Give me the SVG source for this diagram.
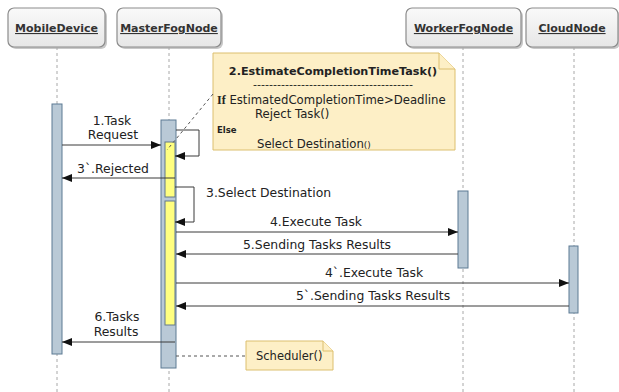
<svg xmlns="http://www.w3.org/2000/svg" width="619" height="392" viewBox="0 0 619 392">
<defs>
<linearGradient id="hdr" x1="0" y1="0" x2="0" y2="1">
<stop offset="0" stop-color="#fafafa"/><stop offset="1" stop-color="#e6e6e6"/>
</linearGradient>
<marker id="ah" markerWidth="10" markerHeight="8" refX="10" refY="4" orient="auto" markerUnits="userSpaceOnUse">
<path d="M0,0 L10,4 L0,8 Z" fill="#111"/>
</marker>
<style>
.hbox{fill:url(#hdr);stroke:#8c8c8c;stroke-width:1.2}
.hsh{fill:#c8c8c8}
.htx{font-family:"DejaVu Sans",Verdana,sans-serif;font-size:11px;font-weight:bold;fill:#333;text-anchor:middle;text-decoration:underline}
.life{stroke:#a8a8a8;stroke-width:1;stroke-dasharray:3,3;fill:none}
.act{fill:#b9c9d6;stroke:#5d7a93;stroke-width:1}
.ylw{fill:#ffff80;stroke:#62788c;stroke-width:1}
.msg{stroke:#3a3a3a;stroke-width:1;fill:none;marker-end:url(#ah)}
.lbl{font-family:"DejaVu Sans",Verdana,sans-serif;font-size:12.4px;fill:#222;text-anchor:middle}
.lbs{font-family:"DejaVu Sans",Verdana,sans-serif;font-size:12.4px;fill:#222}
.note{fill:#fdefc6;stroke:#dcbf6e;stroke-width:1}
.ntx{font-family:"DejaVu Sans",Verdana,sans-serif;font-size:11.7px;fill:#222}
.dash{stroke:#555;stroke-width:1;stroke-dasharray:3,3;fill:none}
</style>
</defs>
<rect width="619" height="392" fill="#fff"/>

<g id="MobileDevice">
<rect class="hsh" x="10" y="10" width="97" height="39" rx="6"/>
<rect class="hbox" x="8" y="8" width="97" height="39" rx="6"/>
<text class="htx" x="56.5" y="32">MobileDevice</text>
<line class="life" x1="57" y1="47" x2="57" y2="392"/>
<rect class="act" x="52" y="104" width="10" height="250"/>
</g>

<g id="MasterFogNode">
<rect class="hsh" x="119" y="10" width="104" height="39" rx="6"/>
<rect class="hbox" x="117" y="8" width="104" height="39" rx="6"/>
<text class="htx" x="169" y="32">MasterFogNode</text>
<line class="life" x1="169" y1="47" x2="169" y2="392"/>
<rect class="act" x="161" y="120" width="15" height="248"/>
<rect class="ylw" x="165" y="142" width="10" height="55"/>
<rect class="ylw" x="165" y="201" width="10" height="124"/>
</g>

<g id="WorkerFogNode">
<rect class="hsh" x="408" y="10" width="115" height="39" rx="6"/>
<rect class="hbox" x="406" y="8" width="115" height="39" rx="6"/>
<text class="htx" x="463.5" y="32">WorkerFogNode</text>
<line class="life" x1="463" y1="47" x2="463" y2="392"/>
<rect class="act" x="458" y="191" width="10" height="77"/>
</g>

<g id="CloudNode">
<rect class="hsh" x="528" y="10" width="92" height="39" rx="6"/>
<rect class="hbox" x="526" y="8" width="92" height="39" rx="6"/>
<text class="htx" x="572" y="32">CloudNode</text>
<line class="life" x1="574" y1="47" x2="574" y2="392"/>
<rect class="act" x="569" y="246" width="9" height="67"/>
</g>

<g id="EstimateNote">
<path class="note" d="M213,53 H439 L455,69 V150 H213 Z"/>
<path class="note" d="M439,53 V69 H455"/>
<text x="333" y="75" font-family="'DejaVu Sans',Verdana,sans-serif" font-size="11.2px" font-weight="bold" fill="#222" text-anchor="middle">2.EstimateCompletionTimeTask()</text>
<text x="253" y="88" font-family="'DejaVu Sans',Verdana,sans-serif" font-size="10px" fill="#222" textLength="160" lengthAdjust="spacingAndGlyphs">----------------------------------------</text>
<text class="ntx" x="217" y="104"><tspan font-weight="bold" font-family="'Liberation Serif',serif" font-size="12px">If</tspan> EstimatedCompletionTime&gt;Deadline</text>
<text class="ntx" x="255" y="118">Reject Task()</text>
<text x="217" y="133" font-family="'DejaVu Sans',Verdana,sans-serif" font-size="8.5px" font-weight="bold" fill="#222">Else</text>
<text class="ntx" x="257" y="148">Select Destination<tspan font-size="9px">()</tspan></text>
</g>

<g id="SchedulerNote">
<path class="note" d="M246,341 H323 L333,351 V370 H246 Z"/>
<path class="note" d="M323,341 V351 H333"/>
<text x="256" y="360" font-family="'DejaVu Sans',Verdana,sans-serif" font-size="11.5px" fill="#222">Scheduler()</text>
</g>

<g id="connectors">
<line class="dash" x1="213" y1="94" x2="167" y2="150"/>
<line class="dash" x1="176" y1="356" x2="246" y2="356"/>
<line class="msg" x1="62" y1="145" x2="161" y2="145"/>
<path class="msg" d="M176,130 H199 V156 H175"/>
<line class="msg" x1="175" y1="178" x2="62" y2="178"/>
<path class="msg" d="M175,187 H194 V222 H175"/>
<line class="msg" x1="176" y1="232" x2="458" y2="232"/>
<line class="msg" x1="458" y1="254" x2="176" y2="254"/>
<line class="msg" x1="176" y1="283" x2="569" y2="283"/>
<line class="msg" x1="569" y1="306" x2="176" y2="306"/>
<line class="msg" x1="175" y1="342" x2="62" y2="342"/>
</g>

<g id="labels">
<text class="lbl" x="112" y="125">1.Task</text>
<text class="lbl" x="113" y="139">Request</text>
<text class="lbl" x="113" y="173">3`.Rejected</text>
<text class="lbs" x="206" y="197">3.Select Destination</text>
<text class="lbl" x="316" y="226">4.Execute Task</text>
<text class="lbl" x="317" y="249">5.Sending Tasks Results</text>
<text class="lbl" x="374" y="277">4`.Execute Task</text>
<text class="lbl" x="373" y="300">5`.Sending Tasks Results</text>
<text class="lbl" x="117" y="321">6.Tasks</text>
<text class="lbl" x="116" y="336">Results</text>
</g>
</svg>
